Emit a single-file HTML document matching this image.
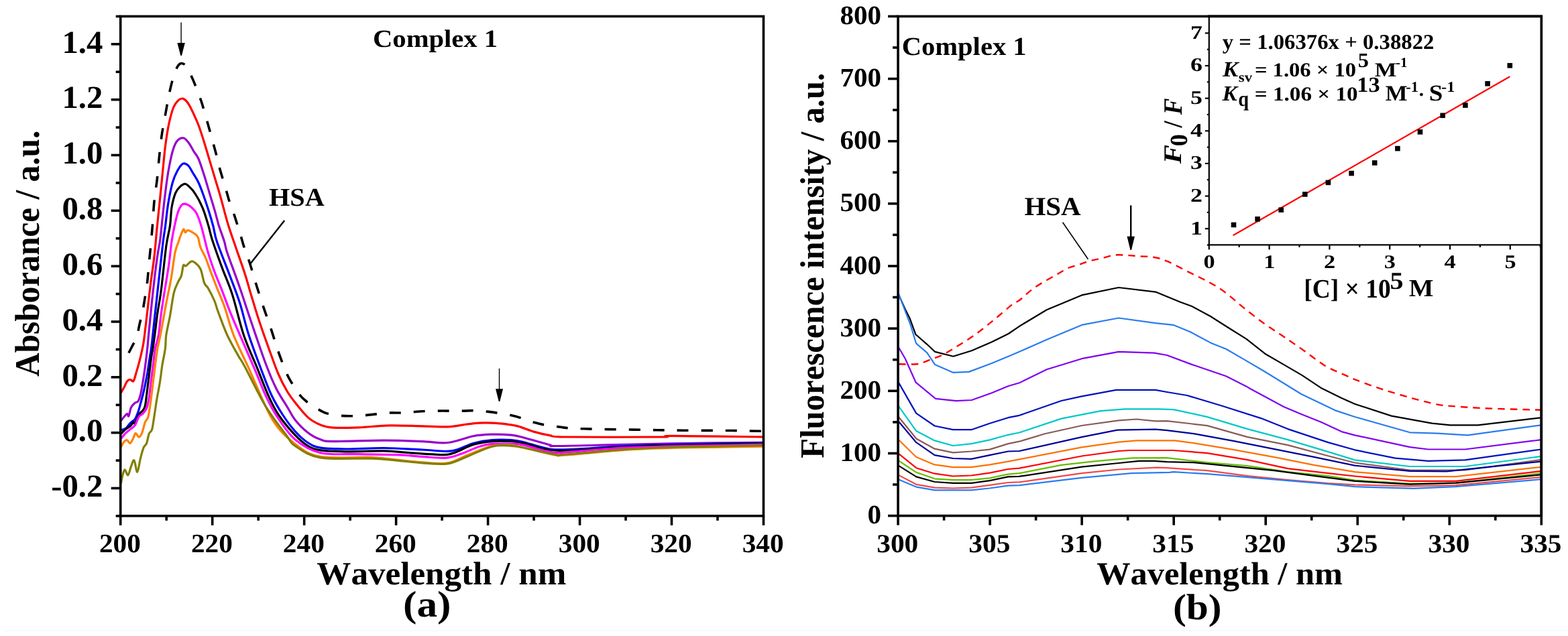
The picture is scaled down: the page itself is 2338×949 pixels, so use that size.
<!DOCTYPE html><html><head><meta charset="utf-8"><title>Complex 1 - HSA spectra</title><style>html,body{margin:0;padding:0;background:#fff;width:2338px;height:949px;overflow:hidden}svg{display:block}text{font-family:"Liberation Serif","Times New Roman",serif;font-weight:bold;fill:#000;font-kerning:none;text-rendering:geometricPrecision}</style></head><body>
<svg width="2338" height="949" viewBox="0 0 2338 949">
<rect width="2338" height="949" fill="#fff"/>
<line x1="6" y1="941" x2="2338" y2="941" stroke="#f8f8f8" stroke-width="2.2"/>
<g fill="none" stroke-linejoin="round" stroke-linecap="butt">
<path d="M180.3,538.5C180.8,538.0 182.1,536.8 183.5,535.6C184.9,534.4 186.7,534.7 189.0,531.5C191.3,528.3 194.7,521.2 197.2,516.4C199.7,511.6 202.2,508.2 204.0,502.7C205.8,497.2 206.7,489.5 208.1,483.6C209.5,477.7 210.8,474.0 212.2,467.1C213.6,460.2 215.2,450.0 216.4,442.5C217.6,435.0 218.6,429.9 219.5,422.0C220.4,414.1 221.2,403.9 222.0,395.0C222.8,386.1 223.7,378.1 224.6,368.5C225.5,358.9 226.4,349.1 227.3,337.5C228.2,325.9 228.9,310.8 230.1,299.2C231.2,287.6 233.0,279.0 234.2,268.0C235.4,257.0 236.4,244.2 237.5,233.4C238.6,222.6 239.8,211.9 241.0,203.0C242.2,194.1 243.5,188.5 245.0,180.0C246.5,171.5 248.4,160.4 250.0,152.0C251.6,143.6 253.0,136.3 254.7,129.3C256.4,122.3 258.2,115.2 260.0,110.0C261.8,104.8 263.9,100.4 265.7,97.8C267.5,95.2 268.9,94.3 271.0,94.5C273.1,94.7 275.5,95.7 278.0,99.2C280.5,102.7 283.7,110.1 286.2,115.6C288.7,121.1 290.8,126.2 293.1,132.1C295.4,138.0 298.2,145.7 300.1,151.2C302.0,156.7 302.6,159.4 304.2,164.9C305.8,170.4 308.1,178.5 309.7,184.1C311.3,189.7 312.2,192.8 313.8,198.5C315.4,204.2 317.6,212.6 319.2,218.5C320.8,224.4 322.0,228.6 323.4,234.0C324.8,239.4 325.9,245.1 327.5,251.0C329.1,256.9 331.1,263.3 332.9,269.5C334.7,275.7 336.8,282.6 338.4,288.0C340.0,293.4 340.7,296.4 342.5,301.9C344.3,307.4 347.6,315.8 349.4,321.1C351.2,326.5 352.0,329.2 353.5,334.0C355.0,338.8 356.8,344.4 358.5,350.0C360.2,355.6 361.5,361.2 363.7,367.9C365.9,374.6 368.7,381.1 371.6,390.0C374.5,398.9 377.7,410.5 381.1,421.6C384.5,432.7 388.5,445.3 392.2,456.4C395.9,467.5 399.5,476.9 403.2,488.0C406.9,499.1 410.4,511.4 414.3,522.7C418.2,534.0 423.5,548.0 426.9,556.0C430.3,564.0 431.6,565.7 434.8,571.0C438.0,576.3 442.2,583.3 445.9,588.0C449.6,592.7 452.4,595.4 456.9,599.0C461.4,602.6 467.6,606.6 472.7,609.6C477.8,612.6 481.5,615.1 487.4,616.9C493.3,618.7 502.0,619.7 508.3,620.3C514.6,620.9 519.4,620.8 525.4,620.7C531.4,620.6 538.3,620.2 544.3,619.7C550.3,619.2 555.4,618.5 561.4,617.9C567.4,617.3 574.4,616.3 580.4,616.0C586.4,615.7 591.4,616.2 597.4,616.0C603.4,615.8 610.4,615.0 616.4,614.6C622.4,614.2 627.2,613.8 633.5,613.5C639.8,613.2 648.0,613.2 654.3,613.1C660.6,613.0 665.4,613.1 671.4,613.1C677.4,613.1 684.4,613.2 690.4,613.1C696.4,613.0 701.4,612.5 707.4,612.7C713.4,612.9 720.4,613.5 726.4,614.1C732.4,614.7 737.5,615.5 743.5,616.5C749.5,617.5 756.5,618.5 762.5,619.8C768.5,621.1 773.7,622.7 779.5,624.5C785.3,626.3 791.5,628.9 797.4,630.6C803.3,632.3 808.7,633.5 814.8,634.6C820.9,635.7 827.7,636.2 833.8,637.0C839.9,637.8 845.1,638.8 851.2,639.3C857.3,639.8 861.0,639.6 870.2,639.8C879.4,640.0 891.3,640.3 906.6,640.6C921.9,640.9 943.5,641.1 962.0,641.4C980.5,641.7 996.3,642.0 1017.4,642.2C1038.5,642.4 1068.6,642.3 1088.6,642.5C1108.6,642.7 1129.4,643.2 1137.6,643.3" stroke="#000" stroke-width="3.6" stroke-dasharray="17 19" stroke-dashoffset="19"/>
<path d="M180.3,586.1C181.1,584.8 183.4,580.9 185.0,578.0C186.6,575.1 188.1,570.6 189.6,568.7C191.1,566.8 192.6,566.4 194.2,566.4C195.8,566.4 197.5,570.2 198.9,568.7C200.3,567.2 201.2,562.5 202.7,557.5C204.2,552.5 206.3,545.7 208.1,538.4C209.9,531.1 212.2,521.4 213.6,513.7C215.0,506.0 215.6,499.3 216.5,492.0C217.4,484.7 217.8,481.3 219.1,469.9C220.4,458.4 222.8,437.9 224.6,423.3C226.4,408.7 228.5,396.2 230.1,382.2C231.7,368.1 232.8,352.8 234.2,339.0C235.6,325.2 236.9,312.7 238.3,299.2C239.7,285.7 241.0,271.6 242.4,258.1C243.8,244.6 244.9,230.3 246.5,218.0C248.1,205.7 249.9,193.8 252.0,184.1C254.1,174.4 256.5,165.7 258.8,160.0C261.1,154.3 263.4,152.1 265.7,149.9C268.0,147.8 270.2,146.7 272.5,147.1C274.8,147.5 277.3,150.1 279.4,152.6C281.5,155.1 283.1,158.6 285.0,162.2C286.9,165.8 288.7,169.9 290.5,174.0C292.3,178.1 293.7,180.6 296.0,186.8C298.3,193.1 301.5,202.8 304.2,211.5C306.9,220.2 309.7,229.8 312.4,238.9C315.1,248.0 317.9,257.2 320.6,266.3C323.3,275.4 325.6,282.4 328.8,293.7C332.0,305.0 336.2,322.1 339.8,334.0C343.4,345.9 345.9,352.5 350.2,365.0C354.4,377.5 361.2,396.2 365.3,409.0C369.4,421.8 371.4,430.2 375.0,442.0C378.6,453.8 382.2,466.2 386.8,480.0C391.4,493.8 397.9,512.0 402.6,525.0C407.3,538.0 410.8,548.2 415.0,558.0C419.2,567.8 423.7,576.4 427.9,583.5C432.1,590.6 434.8,594.0 440.0,600.5C445.2,607.0 452.7,617.0 459.0,622.6C465.3,628.2 471.6,631.4 477.9,634.0C484.2,636.6 487.4,637.5 496.9,638.1C506.4,638.7 520.9,638.3 534.8,637.8C548.7,637.3 564.6,635.2 580.4,634.9C596.2,634.6 615.2,635.6 629.7,635.9C644.2,636.2 656.5,637.3 667.6,636.8C678.7,636.3 688.2,634.0 696.1,633.0C704.0,632.0 708.7,631.4 715.0,631.1C721.3,630.8 727.7,630.9 734.0,631.1C740.3,631.4 746.7,631.8 753.0,632.6C759.3,633.4 764.9,634.0 772.0,635.9C779.1,637.8 787.9,641.8 795.8,644.1C803.7,646.4 811.7,648.3 819.6,649.6C827.5,650.9 815.6,651.6 843.3,652.0C871.0,652.4 959.3,652.3 985.7,652.0C1012.1,651.7 975.9,650.4 1001.5,650.4C1027.1,650.4 1116.2,651.7 1139.2,652.0" stroke="#ff0000" stroke-width="3.2"/>
<path d="M180.3,627.8C181.1,626.8 183.4,623.7 185.0,622.0C186.6,620.3 188.4,617.6 189.6,617.4C190.8,617.2 190.9,622.4 191.9,620.9C192.9,619.4 193.9,611.4 195.4,608.1C196.9,604.8 199.5,602.8 201.2,601.2C202.9,599.7 204.5,600.7 205.8,598.8C207.2,596.9 208.1,594.2 209.3,589.6C210.5,585.0 211.6,578.0 212.8,571.0C214.0,564.0 215.2,556.3 216.3,547.8C217.5,539.3 218.7,529.6 219.7,520.0C220.7,510.4 221.4,500.8 222.5,490.0C223.6,479.2 224.6,468.3 226.0,455.0C227.4,441.7 229.5,422.5 231.0,410.0C232.5,397.5 233.8,388.3 235.0,380.0C236.2,371.7 237.5,367.1 238.5,360.0C239.5,352.9 239.9,347.6 241.0,337.5C242.1,327.4 243.5,312.4 245.1,299.2C246.7,286.0 248.5,270.4 250.6,258.1C252.7,245.8 255.2,233.2 257.5,225.2C259.8,217.2 261.6,213.3 264.3,210.1C267.0,206.9 270.9,205.3 273.9,206.0C276.9,206.7 279.6,210.9 282.1,214.2C284.6,217.5 286.7,222.2 289.0,226.0C291.3,229.8 293.5,231.2 296.0,237.0C298.5,242.8 301.5,252.3 304.2,260.8C306.9,269.3 309.7,279.1 312.4,288.2C315.1,297.3 318.3,307.6 320.6,315.6C322.9,323.6 323.8,328.4 326.1,336.0C328.5,343.6 332.6,354.2 334.7,361.0C336.8,367.8 334.9,365.4 338.8,376.9C342.7,388.4 351.8,412.6 357.8,430.0C363.8,447.4 368.4,462.2 374.8,481.0C381.2,499.8 390.1,526.5 396.3,543.0C402.5,559.5 406.7,569.4 412.0,580.0C417.3,590.6 423.2,598.8 427.9,606.5C432.6,614.2 434.8,619.9 440.0,626.4C445.2,632.9 452.7,640.5 459.0,645.4C465.3,650.3 471.6,653.6 477.9,655.8C484.2,658.0 481.1,658.4 496.9,658.6C512.7,658.8 550.7,657.1 572.8,657.1C594.9,657.1 613.9,658.0 629.7,658.6C645.5,659.2 655.0,661.8 667.6,660.5C680.2,659.2 694.5,652.8 705.6,650.7C716.7,648.7 724.5,648.5 734.0,648.2C743.5,648.0 754.8,648.4 762.5,649.2C770.2,650.0 770.5,650.3 780.0,652.8C789.5,655.2 811.7,661.8 819.6,663.9C827.5,666.0 813.0,665.5 827.5,665.5C842.0,665.5 875.0,664.6 906.6,663.9C938.2,663.2 978.6,662.1 1017.4,661.5C1056.2,660.9 1118.9,660.6 1139.2,660.4" stroke="#9900cc" stroke-width="3.2"/>
<path d="M180.3,641.7C181.5,641.3 185.0,641.1 187.3,639.4C189.6,637.7 191.9,633.6 194.2,631.3C196.5,629.0 199.3,628.2 201.2,625.5C203.1,622.8 204.2,619.6 205.8,615.1C207.4,610.6 208.9,604.6 210.5,598.8C212.1,593.0 213.6,587.2 215.1,580.3C216.6,573.3 218.3,564.8 219.7,557.1C221.0,549.4 222.2,540.1 223.2,533.9C224.2,527.7 224.7,525.6 225.5,520.0C226.3,514.4 226.9,508.3 227.8,500.0C228.7,491.7 229.6,482.5 231.0,470.0C232.4,457.5 234.0,443.0 236.0,425.0C238.0,407.0 241.2,376.6 243.0,362.0C244.8,347.4 245.2,347.1 246.5,337.5C247.8,327.9 248.8,315.6 250.6,304.7C252.4,293.8 255.2,280.0 257.5,271.8C259.8,263.6 261.8,259.9 264.3,255.3C266.8,250.7 269.8,245.8 272.5,244.4C275.2,243.0 278.4,245.0 280.8,247.1C283.2,249.2 284.5,252.8 287.0,257.0C289.5,261.2 293.1,266.4 296.0,272.5C298.9,278.6 301.5,286.1 304.2,293.7C306.9,301.3 310.1,311.1 312.4,318.4C314.7,325.7 316.0,330.4 317.9,337.5C319.8,344.6 319.5,348.8 323.6,361.0C327.7,373.2 336.9,395.7 342.6,411.0C348.3,426.3 353.1,438.0 357.8,452.8C362.5,467.6 365.6,483.4 371.0,500.0C376.4,516.6 384.3,537.7 390.0,552.7C395.7,567.7 399.7,579.0 405.0,590.0C410.3,601.0 415.8,610.1 421.6,619.0C427.4,627.9 433.8,636.6 440.0,643.5C446.2,650.4 452.7,656.4 459.0,660.5C465.3,664.6 468.4,666.5 477.9,668.1C487.4,669.7 500.1,669.9 515.9,670.0C531.7,670.1 553.8,668.3 572.8,668.5C591.8,668.7 613.0,670.3 629.7,671.0C646.5,671.7 660.6,674.5 673.3,672.9C685.9,671.3 695.5,664.2 705.6,661.5C715.7,658.8 724.5,657.5 734.0,656.7C743.5,655.9 754.8,656.2 762.5,656.7C770.2,657.2 770.5,657.3 780.0,659.5C789.5,661.7 806.4,668.2 819.6,670.0C832.8,671.8 839.3,670.8 859.1,670.0C878.9,669.2 911.9,666.4 938.3,665.2C964.7,664.0 983.9,663.7 1017.4,662.9C1050.9,662.1 1118.9,660.9 1139.2,660.5" stroke="#0000ff" stroke-width="3.2"/>
<path d="M180.3,647.5C181.5,646.3 185.0,642.4 187.3,640.5C189.6,638.6 192.3,637.6 194.2,635.9C196.1,634.2 197.7,630.9 198.9,630.1C200.1,629.3 199.7,633.4 201.2,631.3C202.7,629.2 206.2,620.5 208.1,617.4C210.0,614.3 211.4,614.6 212.8,612.7C214.2,610.8 215.3,609.6 216.3,605.8C217.3,601.9 217.6,597.0 218.6,589.6C219.6,582.2 220.9,571.0 222.1,561.7C223.2,552.4 224.5,540.9 225.5,533.9C226.5,526.9 227.0,525.6 227.9,520.0C228.8,514.4 229.5,509.0 230.7,500.0C231.9,491.0 233.4,477.0 235.0,466.0C236.6,455.0 238.1,450.2 240.2,433.8C242.3,417.4 245.6,383.4 247.8,367.4C250.0,351.3 252.0,347.2 253.4,337.5C254.8,327.8 254.7,317.2 256.1,309.0C257.5,300.8 259.6,293.3 261.6,288.2C263.7,283.1 265.9,280.9 268.4,278.6C270.9,276.3 273.6,273.8 276.6,274.5C279.6,275.2 283.4,279.7 286.2,282.7C288.9,285.7 291.1,289.3 293.1,292.5C295.1,295.7 296.5,298.1 298.3,302.0C300.1,305.9 302.1,309.7 304.2,315.6C306.3,321.5 308.9,330.4 311.0,337.5C313.1,344.6 313.1,347.5 316.5,357.9C319.9,368.2 326.2,386.0 331.2,399.6C336.2,413.2 341.0,422.8 346.4,439.5C351.8,456.2 357.2,481.6 363.4,500.0C369.6,518.4 377.6,534.6 383.7,549.6C389.8,564.6 394.7,578.4 400.0,590.0C405.3,601.6 408.6,609.1 415.3,619.0C422.0,628.9 432.7,641.5 440.0,649.2C447.3,656.9 452.7,661.5 459.0,665.3C465.3,669.1 468.4,670.5 477.9,671.9C487.4,673.3 500.1,673.6 515.9,673.8C531.7,674.0 557.0,672.6 572.8,672.9C588.6,673.2 596.5,674.8 610.7,675.7C624.9,676.7 647.0,678.6 658.1,678.6C669.2,678.6 669.2,678.2 677.1,675.7C685.0,673.2 696.1,666.2 705.6,663.4C715.1,660.5 724.5,659.4 734.0,658.6C743.5,657.8 754.8,658.2 762.5,658.6C770.2,659.0 770.5,658.9 780.0,661.0C789.5,663.1 806.4,669.8 819.6,671.5C832.8,673.2 839.3,672.3 859.1,671.5C878.9,670.7 911.9,667.8 938.3,666.6C964.7,665.4 983.9,665.0 1017.4,664.2C1050.9,663.4 1118.9,662.2 1139.2,661.8" stroke="#000" stroke-width="3.2"/>
<path d="M180.3,654.5C181.5,653.1 185.0,648.6 187.3,646.3C189.6,644.0 191.9,642.4 194.2,640.5C196.5,638.6 199.1,637.8 201.2,634.7C203.3,631.6 205.1,624.9 207.0,622.0C208.9,619.1 210.9,619.5 212.8,617.4C214.7,615.3 217.1,613.1 218.6,609.2C220.1,605.3 220.9,601.3 222.1,594.2C223.2,587.1 224.3,575.7 225.5,566.4C226.7,557.1 228.0,546.2 229.0,538.5C230.0,530.8 230.1,526.4 231.3,520.0C232.5,513.6 235.0,508.3 236.4,500.0C237.8,491.7 238.7,479.4 240.0,470.0C241.3,460.6 242.1,455.7 244.0,443.3C245.9,430.9 249.6,409.8 251.6,395.9C253.6,382.0 254.6,369.7 256.0,360.0C257.4,350.3 258.6,344.9 260.2,337.5C261.8,330.1 263.6,321.1 265.7,315.6C267.8,310.1 270.0,306.3 272.5,304.7C275.0,303.1 278.5,305.1 280.8,306.0C283.1,306.9 284.1,308.0 286.2,310.1C288.2,312.2 290.8,313.8 293.1,318.4C295.4,323.0 297.2,327.8 300.1,337.5C303.0,347.2 307.0,365.6 310.3,376.9C313.6,388.2 316.3,395.8 319.8,405.3C323.3,414.8 327.4,424.0 331.2,433.8C335.0,443.6 338.2,453.1 342.6,464.1C347.0,475.1 351.5,485.2 357.8,500.0C364.1,514.8 374.1,537.7 380.5,552.7C386.9,567.7 390.7,578.8 396.0,590.0C401.3,601.2 404.8,609.0 412.1,620.0C419.4,631.0 429.0,646.5 440.0,655.8C451.0,665.1 462.1,672.1 477.9,675.7C493.7,679.3 515.8,677.1 534.8,677.6C553.8,678.1 575.9,678.0 591.7,678.6C607.5,679.2 617.7,680.6 629.7,681.4C641.7,682.2 654.3,683.9 663.8,683.3C673.3,682.7 678.1,680.5 686.6,677.6C695.1,674.8 707.1,668.7 715.0,666.2C722.9,663.7 726.1,663.0 734.0,662.4C741.9,661.8 754.8,662.1 762.5,662.4C770.2,662.6 770.5,661.9 780.0,663.9C789.5,665.9 809.1,672.4 819.6,674.2C830.1,676.1 823.5,676.1 843.3,675.0C863.1,673.9 889.0,669.8 938.3,667.8C987.6,665.8 1105.7,663.9 1139.2,663.1" stroke="#ff00ff" stroke-width="3.2"/>
<path d="M180.3,667.2C181.1,665.9 183.4,660.8 185.0,659.1C186.6,657.4 188.1,656.4 189.6,656.8C191.1,657.2 192.6,662.0 194.2,661.4C195.8,660.8 197.6,655.8 198.9,653.3C200.2,650.8 201.0,646.5 202.3,646.3C203.7,646.1 205.4,652.1 207.0,652.1C208.6,652.1 210.0,650.0 211.6,646.3C213.2,642.6 214.8,634.1 216.3,630.1C217.9,626.1 219.6,626.8 220.9,622.0C222.2,617.2 223.2,609.3 224.4,601.2C225.6,593.1 226.8,582.6 227.9,573.3C229.1,564.0 230.2,554.4 231.3,545.5C232.5,536.6 233.5,527.6 234.8,520.0C236.1,512.4 237.0,511.2 239.2,500.0C241.4,488.8 245.1,467.0 247.8,452.8C250.5,438.6 253.1,427.5 255.3,414.8C257.5,402.1 259.2,385.8 261.0,376.9C262.8,368.0 264.2,366.4 265.8,361.7C267.4,356.9 269.1,351.7 270.5,348.4C271.9,345.1 273.1,342.0 274.0,341.8C274.9,341.6 275.2,346.7 276.2,347.0C277.2,347.3 277.8,343.5 280.0,343.7C282.2,343.9 287.0,346.7 289.5,348.4C292.0,350.1 293.6,350.6 295.2,354.1C296.8,357.6 297.1,364.2 299.0,369.3C300.9,374.4 304.0,378.5 306.5,384.5C309.0,390.5 311.2,397.7 314.1,405.3C317.0,412.9 320.1,421.1 323.6,430.0C327.1,438.9 330.9,446.7 335.0,458.4C339.1,470.1 342.3,484.8 348.3,500.0C354.3,515.2 361.4,528.7 371.0,549.6C380.6,570.5 394.3,606.6 405.8,625.4C417.3,644.2 428.0,653.1 440.0,662.4C452.0,671.7 458.9,678.1 477.9,681.4C496.9,684.7 534.8,681.5 553.8,682.3C572.8,683.1 579.1,684.8 591.7,686.1C604.4,687.4 617.1,689.1 629.7,689.9C642.4,690.7 656.5,692.6 667.6,690.9C678.7,689.2 685.0,683.8 696.1,679.5C707.2,675.2 722.9,667.8 734.0,665.3C745.1,662.8 754.8,663.8 762.5,664.3C770.2,664.8 769.2,665.5 780.0,668.0C790.8,670.5 817.0,677.2 827.5,679.0C838.0,680.8 824.8,680.3 843.3,679.0C861.8,677.7 909.3,672.8 938.3,671.0C967.3,669.2 983.9,668.8 1017.4,668.0C1050.9,667.2 1118.9,666.5 1139.2,666.2" stroke="#ff8000" stroke-width="3.2"/>
<path d="M180.3,721.7C180.7,719.8 181.6,713.6 182.6,710.1C183.6,706.6 184.7,701.0 186.1,700.8C187.5,700.6 189.2,709.8 190.8,709.0C192.4,708.2 193.9,699.9 195.4,696.2C196.9,692.5 198.4,685.5 200.0,686.9C201.6,688.2 203.1,704.7 204.7,704.3C206.2,703.9 207.8,690.6 209.3,684.6C210.8,678.6 212.4,672.3 213.9,668.4C215.4,664.5 217.2,664.9 218.6,661.4C220.0,657.9 220.8,651.0 222.1,647.5C223.4,644.0 225.3,645.1 226.7,640.5C228.0,635.9 229.0,627.0 230.2,619.7C231.4,612.4 232.3,604.6 233.7,596.5C235.0,588.4 237.0,579.5 238.3,571.0C239.7,562.5 240.5,554.0 241.8,545.5C243.2,537.0 245.4,527.6 246.4,520.0C247.4,512.4 246.6,508.1 247.8,500.0C249.0,491.9 251.5,482.1 253.4,471.7C255.3,461.3 257.2,445.8 259.1,437.6C261.0,429.4 262.9,426.8 264.8,422.4C266.7,418.0 269.1,415.4 270.5,411.0C271.9,406.6 272.3,398.3 273.4,395.9C274.5,393.5 275.3,397.8 277.2,396.8C279.1,395.9 282.5,391.1 284.7,390.2C286.9,389.3 288.0,389.8 290.4,391.7C292.8,393.6 296.6,396.4 299.0,401.5C301.4,406.6 302.8,417.6 304.7,422.4C306.6,427.1 307.8,425.6 310.3,430.0C312.8,434.4 317.3,443.0 319.8,449.0C322.3,455.0 322.3,457.5 325.5,466.0C328.7,474.5 333.9,489.2 338.8,500.0C343.8,510.8 350.9,522.9 355.2,530.6C359.5,538.3 357.8,533.8 364.7,546.4C371.6,559.0 385.8,589.1 396.3,606.5C406.8,623.9 420.6,640.9 427.9,650.7C435.2,660.5 431.7,659.9 440.0,665.3C448.3,670.7 458.9,679.8 477.9,682.9C496.9,686.0 534.8,683.5 553.8,684.2C572.8,684.9 579.1,686.0 591.7,687.1C604.4,688.2 617.1,690.1 629.7,690.9C642.4,691.7 656.5,693.4 667.6,691.8C678.7,690.2 685.0,685.7 696.1,681.4C707.2,677.1 722.9,668.9 734.0,666.2C745.1,663.5 754.8,665.0 762.5,665.3C770.2,665.6 769.2,665.7 780.0,667.8C790.8,669.9 817.0,676.4 827.5,678.1C838.0,679.8 824.8,679.4 843.3,678.1C861.8,676.8 909.3,672.1 938.3,670.2C967.3,668.4 983.9,667.9 1017.4,667.0C1050.9,666.1 1118.9,665.1 1139.2,664.7" stroke="#808000" stroke-width="3.2"/>
</g>
<g fill="none" stroke-linejoin="round" stroke-width="2.2">
<path d="M1339.2,543.3C1343.8,543.3 1360.2,543.8 1366.6,543.3C1373.0,542.8 1374.4,541.5 1377.8,540.4C1381.2,539.3 1382.3,538.4 1386.7,536.7C1391.1,535.0 1398.3,533.0 1404.4,530.0C1410.5,527.0 1415.4,524.0 1423.5,519.0C1431.6,514.0 1443.2,507.0 1453.0,500.0C1462.8,493.0 1473.0,484.6 1482.5,476.9C1492.0,469.2 1503.8,458.5 1510.0,453.7C1516.2,448.9 1514.5,452.1 1520.0,448.0C1525.5,443.9 1533.6,435.3 1542.8,429.0C1552.0,422.7 1566.7,414.8 1575.0,410.0C1583.3,405.2 1587.1,402.5 1592.7,400.0C1598.3,397.5 1603.1,396.8 1608.5,395.0C1613.9,393.2 1619.1,391.1 1625.0,389.4C1630.9,387.7 1637.6,386.5 1643.9,385.0C1650.2,383.5 1656.4,381.1 1662.9,380.5C1669.4,379.9 1677.0,380.8 1683.1,381.1C1689.2,381.4 1693.3,382.0 1699.5,382.4C1705.7,382.8 1713.2,382.5 1720.0,383.7C1726.8,384.9 1730.9,385.8 1740.0,389.7C1749.1,393.6 1764.0,401.7 1774.8,407.1C1785.6,412.5 1796.0,417.2 1804.9,422.2C1813.8,427.2 1819.6,430.8 1828.1,437.2C1836.6,443.6 1846.2,452.7 1855.9,460.4C1865.6,468.1 1876.4,476.6 1886.1,483.6C1895.8,490.6 1904.2,495.6 1913.9,502.2C1923.6,508.8 1933.6,515.7 1944.0,523.0C1954.4,530.3 1966.1,540.0 1976.5,546.2C1986.9,552.4 1998.9,556.6 2006.6,560.1C2014.3,563.6 2013.6,563.7 2022.7,567.2C2031.8,570.7 2047.8,576.6 2061.1,580.9C2074.3,585.2 2088.5,589.4 2102.2,593.2C2115.9,597.0 2132.0,601.4 2143.4,603.6C2154.8,605.8 2159.4,605.5 2170.8,606.4C2182.2,607.3 2190.7,608.2 2211.9,609.1C2233.1,610.0 2283.8,611.3 2298.2,611.8" stroke="#ff0000" stroke-width="2.4" stroke-dasharray="10.5 8" stroke-dashoffset="-1"/>
<path d="M1339.4,438.5 L1349.8,461.4 L1356.4,474.7 L1365.3,499.0 L1382.3,513.8 L1394.1,524.9 L1421.4,531.7 L1448.8,523.3 L1478.3,510.6 L1503.6,498.0 L1520.0,486.8 L1560.8,462.2 L1613.0,440.4 L1668.0,429.0 L1723.0,435.6 L1760.0,450.8 L1777.1,457.0 L1804.9,472.0 L1830.4,488.2 L1858.2,505.6 L1886.1,527.7 L1913.9,543.9 L1941.7,560.1 L1969.5,578.7 L2000.4,594.0 L2020.0,602.8 L2074.8,620.6 L2135.1,631.6 L2162.5,634.3 L2203.7,634.3 L2296.9,623.4" stroke="#000"/>
<path d="M1339.4,437.0 L1349.8,464.3 L1357.2,483.5 L1366.0,512.3 L1382.3,526.4 L1394.1,544.1 L1421.4,555.9 L1444.6,554.9 L1478.3,542.2 L1503.6,531.7 L1520.0,524.8 L1560.8,506.8 L1613.0,484.9 L1668.0,474.5 L1723.0,482.1 L1749.3,484.8 L1774.8,495.2 L1804.9,511.4 L1828.1,520.7 L1855.9,536.9 L1883.8,553.2 L1913.9,571.7 L1940.3,588.0 L1990.3,612.1 L2020.0,622.0 L2102.2,645.3 L2143.4,646.7 L2188.6,649.4 L2298.2,634.3" stroke="#2a7cf0"/>
<path d="M1339.4,517.5 L1349.8,535.2 L1365.6,570.7 L1395.0,594.9 L1425.6,598.1 L1448.8,597.0 L1478.3,586.5 L1503.6,576.0 L1520.0,571.3 L1560.8,551.3 L1613.0,535.2 L1668.0,524.8 L1721.0,526.7 L1740.0,530.0 L1777.1,543.9 L1828.1,561.3 L1858.2,576.4 L1864.2,580.0 L1914.2,607.0 L1940.3,618.1 L1970.3,630.1 L2000.4,644.1 L2020.0,649.4 L2102.2,667.2 L2129.6,670.5 L2184.5,670.5 L2298.2,656.2" stroke="#8000f0"/>
<path d="M1339.2,569.6 L1366.1,616.6 L1393.6,635.5 L1421.0,641.2 L1448.4,641.2 L1475.8,631.7 L1503.2,623.2 L1520.0,619.8 L1582.6,598.0 L1613.0,591.4 L1664.2,581.9 L1723.0,581.9 L1740.0,585.0 L1770.0,590.0 L1820.1,605.0 L1880.2,624.1 L1920.2,640.1 L1980.3,660.1 L2020.0,671.3 L2080.3,683.7 L2129.6,687.8 L2184.5,686.4 L2298.2,670.5" stroke="#0010c0"/>
<path d="M1339.2,605.2 L1366.2,643.1 L1393.6,657.4 L1421.0,665.0 L1448.4,662.1 L1475.8,656.4 L1503.2,648.8 L1520.0,645.5 L1582.6,624.6 L1641.4,613.2 L1677.5,610.4 L1728.7,610.4 L1750.0,611.1 L1800.1,622.1 L1860.2,640.1 L1920.2,656.1 L1980.3,674.1 L2020.0,686.4 L2102.2,696.0 L2184.5,696.0 L2298.2,680.9" stroke="#00c8c8"/>
<path d="M1339.2,621.3 L1366.2,654.5 L1393.6,669.7 L1421.0,675.4 L1448.4,673.5 L1475.8,670.6 L1503.2,662.1 L1520.0,658.7 L1558.0,647.3 L1613.0,635.0 L1668.0,627.4 L1694.5,625.5 L1723.0,628.4 L1740.0,628.1 L1800.1,635.1 L1860.2,652.1 L1920.2,664.1 L1980.3,680.2 L2020.0,690.5 L2102.2,701.5 L2184.5,701.5 L2298.2,685.9" stroke="#8a5a55"/>
<path d="M1339.2,628.0 L1366.2,660.2 L1393.6,679.2 L1421.0,684.0 L1448.4,684.9 L1475.8,679.2 L1503.2,673.5 L1520.0,673.0 L1613.0,652.1 L1666.1,641.7 L1723.0,640.7 L1740.0,642.1 L1780.1,647.1 L1840.1,658.1 L1900.2,670.1 L1960.3,682.2 L2020.0,694.6 L2102.2,702.9 L2157.1,703.4 L2298.2,688.6" stroke="#000099"/>
<path d="M1339.2,655.5 L1366.2,682.0 L1393.6,693.4 L1421.0,697.2 L1448.4,697.2 L1475.8,693.4 L1503.2,688.7 L1520.0,685.3 L1613.0,667.3 L1668.0,659.7 L1694.5,657.4 L1751.5,657.4 L1780.1,661.1 L1840.1,671.1 L1900.2,682.2 L1960.3,694.2 L2020.0,704.2 L2102.2,711.1 L2170.8,711.1 L2298.2,696.8" stroke="#ff7000"/>
<path d="M1339.2,676.3 L1366.2,698.2 L1393.6,706.7 L1421.0,710.5 L1448.4,709.5 L1475.8,705.7 L1503.2,700.0 L1520.0,698.6 L1613.0,680.5 L1668.0,673.0 L1683.2,672.0 L1749.6,672.0 L1800.1,676.1 L1860.2,686.2 L1920.2,699.2 L1980.3,706.2 L2020.0,710.5 L2102.2,717.9 L2170.8,717.9 L2298.2,702.9" stroke="#ff0000"/>
<path d="M1339.2,686.8 L1366.2,704.8 L1393.6,714.3 L1421.0,716.2 L1448.4,716.2 L1475.8,713.3 L1503.2,707.6 L1520.0,706.2 L1582.6,693.8 L1633.8,688.1 L1688.8,683.4 L1740.0,683.2 L1800.1,690.2 L1860.2,695.2 L1920.2,704.2 L1980.3,710.2 L2020.0,716.6 L2102.2,721.5 L2170.8,720.7 L2298.2,706.1" stroke="#66bb00"/>
<path d="M1339.2,694.4 L1366.2,711.4 L1393.6,719.0 L1421.0,720.9 L1448.4,720.9 L1475.8,717.1 L1503.2,711.4 L1520.0,710.9 L1613.0,696.7 L1668.0,691.0 L1698.3,687.8 L1721.1,687.8 L1740.0,689.2 L1780.1,690.2 L1840.1,696.2 L1900.2,702.2 L1960.3,710.2 L2020.0,717.9 L2102.2,722.6 L2170.8,720.7 L2298.2,708.3" stroke="#000"/>
<path d="M1339.2,708.6 L1366.2,722.8 L1393.6,727.6 L1421.0,728.5 L1448.4,727.6 L1475.8,723.8 L1503.2,720.0 L1520.0,719.4 L1613.0,706.2 L1668.0,700.5 L1724.9,697.6 L1740.0,698.2 L1800.1,702.2 L1860.2,710.2 L1920.2,716.2 L1980.3,721.2 L2020.0,723.4 L2102.2,725.3 L2170.8,724.2 L2298.2,711.9" stroke="#f04848"/>
<path d="M1339.2,715.2 L1366.2,726.6 L1393.6,731.4 L1421.0,731.4 L1448.4,731.4 L1475.8,728.5 L1503.2,724.7 L1520.0,724.2 L1613.0,712.8 L1687.0,706.2 L1743.9,704.8 L1750.0,704.2 L1800.1,707.2 L1860.2,712.2 L1920.2,717.2 L1980.3,722.2 L2020.0,726.2 L2107.7,728.9 L2170.8,726.2 L2298.2,715.2" stroke="#2a7cf0"/>
</g>
<g stroke="#000" stroke-width="3.6" fill="none" stroke-linecap="butt">
<rect x="179.7" y="24.4" width="958.75" height="745.40"/>
<line x1="179.70" y1="769.8" x2="179.70" y2="783.8"/>
<line x1="248.18" y1="769.8" x2="248.18" y2="776.8"/>
<line x1="316.66" y1="769.8" x2="316.66" y2="783.8"/>
<line x1="385.15" y1="769.8" x2="385.15" y2="776.8"/>
<line x1="453.63" y1="769.8" x2="453.63" y2="783.8"/>
<line x1="522.11" y1="769.8" x2="522.11" y2="776.8"/>
<line x1="590.59" y1="769.8" x2="590.59" y2="783.8"/>
<line x1="659.08" y1="769.8" x2="659.08" y2="776.8"/>
<line x1="727.56" y1="769.8" x2="727.56" y2="783.8"/>
<line x1="796.04" y1="769.8" x2="796.04" y2="776.8"/>
<line x1="864.52" y1="769.8" x2="864.52" y2="783.8"/>
<line x1="933.00" y1="769.8" x2="933.00" y2="776.8"/>
<line x1="1001.49" y1="769.8" x2="1001.49" y2="783.8"/>
<line x1="1069.97" y1="769.8" x2="1069.97" y2="776.8"/>
<line x1="1138.45" y1="769.8" x2="1138.45" y2="783.8"/>
<line x1="179.7" y1="769.90" x2="172.7" y2="769.90"/>
<line x1="179.7" y1="728.49" x2="165.7" y2="728.49"/>
<line x1="179.7" y1="687.08" x2="172.7" y2="687.08"/>
<line x1="179.7" y1="645.66" x2="165.7" y2="645.66"/>
<line x1="179.7" y1="604.25" x2="172.7" y2="604.25"/>
<line x1="179.7" y1="562.83" x2="165.7" y2="562.83"/>
<line x1="179.7" y1="521.41" x2="172.7" y2="521.41"/>
<line x1="179.7" y1="480.00" x2="165.7" y2="480.00"/>
<line x1="179.7" y1="438.59" x2="172.7" y2="438.59"/>
<line x1="179.7" y1="397.17" x2="165.7" y2="397.17"/>
<line x1="179.7" y1="355.76" x2="172.7" y2="355.76"/>
<line x1="179.7" y1="314.34" x2="165.7" y2="314.34"/>
<line x1="179.7" y1="272.92" x2="172.7" y2="272.92"/>
<line x1="179.7" y1="231.51" x2="165.7" y2="231.51"/>
<line x1="179.7" y1="190.09" x2="172.7" y2="190.09"/>
<line x1="179.7" y1="148.68" x2="165.7" y2="148.68"/>
<line x1="179.7" y1="107.26" x2="172.7" y2="107.26"/>
<line x1="179.7" y1="65.85" x2="165.7" y2="65.85"/>
<line x1="179.7" y1="24.44" x2="172.7" y2="24.44"/>
<rect x="1339.05" y="24.4" width="959.25" height="745.20"/>
<line x1="1339.05" y1="769.6" x2="1339.05" y2="783.6"/>
<line x1="1407.57" y1="769.6" x2="1407.57" y2="776.6"/>
<line x1="1476.09" y1="769.6" x2="1476.09" y2="783.6"/>
<line x1="1544.60" y1="769.6" x2="1544.60" y2="776.6"/>
<line x1="1613.12" y1="769.6" x2="1613.12" y2="783.6"/>
<line x1="1681.64" y1="769.6" x2="1681.64" y2="776.6"/>
<line x1="1750.16" y1="769.6" x2="1750.16" y2="783.6"/>
<line x1="1818.68" y1="769.6" x2="1818.68" y2="776.6"/>
<line x1="1887.19" y1="769.6" x2="1887.19" y2="783.6"/>
<line x1="1955.71" y1="769.6" x2="1955.71" y2="776.6"/>
<line x1="2024.23" y1="769.6" x2="2024.23" y2="783.6"/>
<line x1="2092.75" y1="769.6" x2="2092.75" y2="776.6"/>
<line x1="2161.26" y1="769.6" x2="2161.26" y2="783.6"/>
<line x1="2229.78" y1="769.6" x2="2229.78" y2="776.6"/>
<line x1="2298.30" y1="769.6" x2="2298.30" y2="783.6"/>
<line x1="1339.05" y1="769.60" x2="1324.05" y2="769.60"/>
<line x1="1339.05" y1="723.02" x2="1331.05" y2="723.02"/>
<line x1="1339.05" y1="676.45" x2="1324.05" y2="676.45"/>
<line x1="1339.05" y1="629.88" x2="1331.05" y2="629.88"/>
<line x1="1339.05" y1="583.30" x2="1324.05" y2="583.30"/>
<line x1="1339.05" y1="536.73" x2="1331.05" y2="536.73"/>
<line x1="1339.05" y1="490.15" x2="1324.05" y2="490.15"/>
<line x1="1339.05" y1="443.57" x2="1331.05" y2="443.57"/>
<line x1="1339.05" y1="397.00" x2="1324.05" y2="397.00"/>
<line x1="1339.05" y1="350.43" x2="1331.05" y2="350.43"/>
<line x1="1339.05" y1="303.85" x2="1324.05" y2="303.85"/>
<line x1="1339.05" y1="257.27" x2="1331.05" y2="257.27"/>
<line x1="1339.05" y1="210.70" x2="1324.05" y2="210.70"/>
<line x1="1339.05" y1="164.12" x2="1331.05" y2="164.12"/>
<line x1="1339.05" y1="117.55" x2="1324.05" y2="117.55"/>
<line x1="1339.05" y1="70.98" x2="1331.05" y2="70.98"/>
<line x1="1339.05" y1="24.40" x2="1324.05" y2="24.40"/>
</g>
<g stroke="#000" stroke-width="2.2" fill="none">
<rect x="1802.8" y="24.4" width="495.50" height="341.00" fill="#fff"/>
<line x1="1802.80" y1="365.4" x2="1802.80" y2="372.4"/>
<line x1="1847.70" y1="365.4" x2="1847.70" y2="368.9"/>
<line x1="1892.60" y1="365.4" x2="1892.60" y2="372.4"/>
<line x1="1937.50" y1="365.4" x2="1937.50" y2="368.9"/>
<line x1="1982.40" y1="365.4" x2="1982.40" y2="372.4"/>
<line x1="2027.30" y1="365.4" x2="2027.30" y2="368.9"/>
<line x1="2072.20" y1="365.4" x2="2072.20" y2="372.4"/>
<line x1="2117.10" y1="365.4" x2="2117.10" y2="368.9"/>
<line x1="2162.00" y1="365.4" x2="2162.00" y2="372.4"/>
<line x1="2206.90" y1="365.4" x2="2206.90" y2="368.9"/>
<line x1="2251.80" y1="365.4" x2="2251.80" y2="372.4"/>
<line x1="2296.70" y1="365.4" x2="2296.70" y2="368.9"/>
<line x1="1802.8" y1="365.51" x2="1799.8" y2="365.51"/>
<line x1="1802.8" y1="341.20" x2="1796.8" y2="341.20"/>
<line x1="1802.8" y1="316.88" x2="1799.8" y2="316.88"/>
<line x1="1802.8" y1="292.57" x2="1796.8" y2="292.57"/>
<line x1="1802.8" y1="268.25" x2="1799.8" y2="268.25"/>
<line x1="1802.8" y1="243.94" x2="1796.8" y2="243.94"/>
<line x1="1802.8" y1="219.62" x2="1799.8" y2="219.62"/>
<line x1="1802.8" y1="195.31" x2="1796.8" y2="195.31"/>
<line x1="1802.8" y1="170.99" x2="1799.8" y2="170.99"/>
<line x1="1802.8" y1="146.68" x2="1796.8" y2="146.68"/>
<line x1="1802.8" y1="122.36" x2="1799.8" y2="122.36"/>
<line x1="1802.8" y1="98.05" x2="1796.8" y2="98.05"/>
<line x1="1802.8" y1="73.73" x2="1799.8" y2="73.73"/>
<line x1="1802.8" y1="49.42" x2="1796.8" y2="49.42"/>
</g>
<line x1="1838.6" y1="351.3" x2="2251.3" y2="114.3" stroke="#ff0000" stroke-width="2.2"/>
<rect x="1835.7" y="331.7" width="7.6" height="7.6" fill="#000"/>
<rect x="1871.3" y="323.1" width="7.6" height="7.6" fill="#000"/>
<rect x="1906.4" y="309.4" width="7.6" height="7.6" fill="#000"/>
<rect x="1942.0" y="286.1" width="7.6" height="7.6" fill="#000"/>
<rect x="1976.6" y="268.6" width="7.6" height="7.6" fill="#000"/>
<rect x="2011.3" y="254.8" width="7.6" height="7.6" fill="#000"/>
<rect x="2045.9" y="239.2" width="7.6" height="7.6" fill="#000"/>
<rect x="2080.1" y="217.8" width="7.6" height="7.6" fill="#000"/>
<rect x="2113.7" y="193.1" width="7.6" height="7.6" fill="#000"/>
<rect x="2147.4" y="168.5" width="7.6" height="7.6" fill="#000"/>
<rect x="2181.1" y="153.3" width="7.6" height="7.6" fill="#000"/>
<rect x="2214.3" y="121.0" width="7.6" height="7.6" fill="#000"/>
<rect x="2247.5" y="94.0" width="7.6" height="7.6" fill="#000"/>
<g stroke="#000" stroke-width="3.6"><line x1="1800.8" y1="24.4" x2="2300.1000000000004" y2="24.4"/><line x1="2298.3" y1="24.4" x2="2298.3" y2="769.6"/></g>
<line x1="270.1" y1="33.5" x2="270.1" y2="65.1" stroke="#000" stroke-width="1.4"/>
<polygon points="264.4,64.1 275.8,64.1 270.9,82.9 269.3,82.9" fill="#000"/>
<line x1="744.5" y1="549.8" x2="744.5" y2="581.2" stroke="#000" stroke-width="1.4"/>
<polygon points="739.0,580.2 750.0,580.2 745.3,599.1 743.7,599.1" fill="#000"/>
<line x1="1686.2" y1="306.5" x2="1686.2" y2="353.7" stroke="#000" stroke-width="2.4"/>
<polygon points="1680.5,352.7 1691.9,352.7 1687.0,372.9 1685.4,372.9" fill="#000"/>
<line x1="424.2" y1="329" x2="372.5" y2="394.6" stroke="#000" stroke-width="2.4"/>
<line x1="1584.5" y1="331.8" x2="1622.4" y2="386.8" stroke="#000" stroke-width="1.6"/>
<circle cx="2119.4" cy="141.1" r="2.4" fill="#000"/>
<text id="cA" font-size="37.02" transform="translate(556.04 70.05) scale(1.0965 1)">Complex 1</text>
<text id="hsaA" font-size="38.31" transform="translate(400.97 307) scale(1.0511 1)">HSA</text>
<text id="ylabA" font-size="51.48" transform="translate(57.95 562) rotate(-90) scale(0.9584 1)">Absborance / a.u.</text>
<text id="xlabA" font-size="48.58" transform="translate(472.3 871.5) scale(1.0521 1)">Wavelength / nm</text>
<text id="panA" font-size="55.04" transform="translate(601.01 919.68) scale(1.1141 1)">(a)</text>
<text id="cB" font-size="38.56" transform="translate(1344.73 81.89) scale(1.0520 1)">Complex 1</text>
<text id="hsaB" font-size="39.08" transform="translate(1527.57 320.7) scale(1.0458 1)">HSA</text>
<text id="ylabB" font-size="50.43" transform="translate(1228.15 683.71) rotate(-90) scale(0.9661 1)">Fluorescence intensity / a.u.</text>
<text id="xlabB" font-size="48.04" transform="translate(1635.15 871.5) scale(1.0491 1)">Wavelength / nm</text>
<text id="panB" font-size="54.28" transform="translate(1748.99 924.02) scale(1.0946 1)">(b)</text>
<text id="L1" font-size="31.64" transform="translate(1822.77 72.82) scale(1.0353 1)">y = 1.06376x + 0.38822</text>
<text id="L2K" font-style="italic" font-size="32.35" transform="translate(1823 113.67) scale(1.0757 1)">K</text>
<text id="L2sv" font-size="20.68" transform="translate(1846.87 121.89) scale(1.0964 1)">sv</text>
<text id="L2a" font-size="29.7" transform="translate(1870.88 113.96) scale(1.0978 1)">= 1.06 × 10</text>
<text id="L2e" font-size="30.56" transform="translate(2024.64 100.23) scale(1.0628 1)">5</text>
<text id="L2M" font-size="29.87" transform="translate(2049.86 114.03) scale(1.1601 1)">M</text>
<text id="L2m1" font-size="20.73" transform="translate(2080.93 100.04) scale(1.0191 1)">-1</text>
<text id="L3K" font-style="italic" font-size="32.08" transform="translate(1822.59 150.2) scale(1.0418 1)">K</text>
<text id="L3q" font-size="31.61" transform="translate(1846.15 158.42) scale(0.8960 1)">q</text>
<text id="L3a" font-size="29.66" transform="translate(1870.82 150) scale(1.1170 1)">= 1.06 × 10</text>
<text id="L3e" font-size="32.08" transform="translate(2023.23 136.6) scale(1.0730 1)">13</text>
<text id="L3M" font-size="32.77" transform="translate(2065.73 150) scale(1.0604 1)">M</text>
<text id="L3m1" font-size="22.4" transform="translate(2096.18 136.58) scale(1.0079 1)">-1</text>
<text id="L3S" font-size="34.04" transform="translate(2130.81 149.96) scale(1.0881 1)">S</text>
<text id="L3m2" font-size="22.4" transform="translate(2149.11 136.58) scale(1.0871 1)">-1</text>
<text id="ixl" font-size="39.74" transform="translate(1944.26 444.37) scale(0.9420 1)">[C] × 10</text>
<text id="ixe" font-size="36.23" transform="translate(2072.47 431) scale(1.1086 1)">5</text>
<text id="ixM" font-size="36.83" transform="translate(2100.64 442.11) scale(1.0567 1)">M</text>
<text id="iyF" font-style="italic" font-size="37.72" transform="translate(1761 244.2) rotate(-90) scale(1.1256 1)">F</text>
<text id="iy0" font-size="36.82" transform="translate(1770.48 218.34) rotate(-90) scale(0.9787 1)">0</text>
<text id="iyS" font-size="39.35" transform="translate(1761.76 190.79) rotate(-90) scale(0.9411 1)">/ <tspan font-style="italic">F</tspan></text>
<text id="gAx_200" text-anchor="middle" font-size="39.51" transform="translate(178.9 823.82) scale(1.0453 1)">200</text>
<text id="gAx_220" text-anchor="middle" font-size="39.51" transform="translate(315.87 823.82) scale(1.0453 1)">220</text>
<text id="gAx_240" text-anchor="middle" font-size="39.51" transform="translate(452.83 823.82) scale(1.0453 1)">240</text>
<text id="gAx_260" text-anchor="middle" font-size="39.51" transform="translate(589.8 823.82) scale(1.0453 1)">260</text>
<text id="gAx_280" text-anchor="middle" font-size="39.51" transform="translate(726.76 823.82) scale(1.0453 1)">280</text>
<text id="gAx_300" text-anchor="middle" font-size="39.51" transform="translate(863.72 823.82) scale(1.0453 1)">300</text>
<text id="gAx_320" text-anchor="middle" font-size="39.51" transform="translate(1000.69 823.82) scale(1.0453 1)">320</text>
<text id="gAx_340" text-anchor="middle" font-size="39.51" transform="translate(1137.65 823.82) scale(1.0453 1)">340</text>
<text id="gAy_1.4" text-anchor="end" font-size="47.73" transform="translate(153.41 78.6) scale(1.0227 1)">1.4</text>
<text id="gAy_1.2" text-anchor="end" font-size="47.73" transform="translate(153.41 161.43) scale(1.0227 1)">1.2</text>
<text id="gAy_1.0" text-anchor="end" font-size="47.73" transform="translate(153.41 244.26) scale(1.0227 1)">1.0</text>
<text id="gAy_0.8" text-anchor="end" font-size="47.73" transform="translate(153.41 327.09) scale(1.0227 1)">0.8</text>
<text id="gAy_0.6" text-anchor="end" font-size="47.73" transform="translate(153.41 409.92) scale(1.0227 1)">0.6</text>
<text id="gAy_0.4" text-anchor="end" font-size="47.73" transform="translate(153.41 492.75) scale(1.0227 1)">0.4</text>
<text id="gAy_0.2" text-anchor="end" font-size="47.73" transform="translate(153.41 575.58) scale(1.0227 1)">0.2</text>
<text id="gAy_0.0" text-anchor="end" font-size="47.73" transform="translate(153.41 658.41) scale(1.0227 1)">0.0</text>
<text id="gAy_-0.2" text-anchor="end" font-size="47.73" transform="translate(153.41 741.24) scale(1.0227 1)">-0.2</text>
<text id="gBx_300" text-anchor="middle" font-size="39.06" transform="translate(1338.26 824.2) scale(1.0589 1)">300</text>
<text id="gBx_305" text-anchor="middle" font-size="39.06" transform="translate(1475.3 824.2) scale(1.0589 1)">305</text>
<text id="gBx_310" text-anchor="middle" font-size="39.06" transform="translate(1612.34 824.2) scale(1.0589 1)">310</text>
<text id="gBx_315" text-anchor="middle" font-size="39.06" transform="translate(1749.37 824.2) scale(1.0589 1)">315</text>
<text id="gBx_320" text-anchor="middle" font-size="39.06" transform="translate(1886.41 824.2) scale(1.0589 1)">320</text>
<text id="gBx_325" text-anchor="middle" font-size="39.06" transform="translate(2023.44 824.2) scale(1.0589 1)">325</text>
<text id="gBx_330" text-anchor="middle" font-size="39.06" transform="translate(2160.48 824.2) scale(1.0589 1)">330</text>
<text id="gBx_335" text-anchor="middle" font-size="39.06" transform="translate(2297.51 824.2) scale(1.0589 1)">335</text>
<text id="gBy_0" text-anchor="end" font-size="39.85" transform="translate(1314.06 781.2) scale(1.0303 1)">0</text>
<text id="gBy_100" text-anchor="end" font-size="39.85" transform="translate(1314.06 688.05) scale(1.0303 1)">100</text>
<text id="gBy_200" text-anchor="end" font-size="39.85" transform="translate(1314.06 594.9) scale(1.0303 1)">200</text>
<text id="gBy_300" text-anchor="end" font-size="39.85" transform="translate(1314.06 501.75) scale(1.0303 1)">300</text>
<text id="gBy_400" text-anchor="end" font-size="39.85" transform="translate(1314.06 408.6) scale(1.0303 1)">400</text>
<text id="gBy_500" text-anchor="end" font-size="39.85" transform="translate(1314.06 315.45) scale(1.0303 1)">500</text>
<text id="gBy_600" text-anchor="end" font-size="39.85" transform="translate(1314.06 222.3) scale(1.0303 1)">600</text>
<text id="gBy_700" text-anchor="end" font-size="39.85" transform="translate(1314.06 129.15) scale(1.0303 1)">700</text>
<text id="gBy_800" text-anchor="end" font-size="39.85" transform="translate(1314.06 36) scale(1.0303 1)">800</text>
<text id="gIy_1" text-anchor="end" font-size="28.82" transform="translate(1792.95 349.57) scale(1.2450 1)">1</text>
<text id="gIy_2" text-anchor="end" font-size="28.82" transform="translate(1792.95 300.94) scale(1.2450 1)">2</text>
<text id="gIy_3" text-anchor="end" font-size="28.82" transform="translate(1792.95 252.31) scale(1.2450 1)">3</text>
<text id="gIy_4" text-anchor="end" font-size="28.82" transform="translate(1792.95 203.68) scale(1.2450 1)">4</text>
<text id="gIy_5" text-anchor="end" font-size="28.82" transform="translate(1792.95 155.05) scale(1.2450 1)">5</text>
<text id="gIy_6" text-anchor="end" font-size="28.82" transform="translate(1792.95 106.42) scale(1.2450 1)">6</text>
<text id="gIy_7" text-anchor="end" font-size="28.82" transform="translate(1792.95 57.79) scale(1.2450 1)">7</text>
<text id="gIx_0" text-anchor="middle" font-size="28.48" transform="translate(1802.94 400.2) scale(1.2030 1)">0</text>
<text id="gIx_1" text-anchor="middle" font-size="28.48" transform="translate(1892.74 400.2) scale(1.2030 1)">1</text>
<text id="gIx_2" text-anchor="middle" font-size="28.48" transform="translate(1982.54 400.2) scale(1.2030 1)">2</text>
<text id="gIx_3" text-anchor="middle" font-size="28.48" transform="translate(2072.34 400.2) scale(1.2030 1)">3</text>
<text id="gIx_4" text-anchor="middle" font-size="28.48" transform="translate(2162.14 400.2) scale(1.2030 1)">4</text>
<text id="gIx_5" text-anchor="middle" font-size="28.48" transform="translate(2251.94 400.2) scale(1.2030 1)">5</text>
</svg></body></html>
